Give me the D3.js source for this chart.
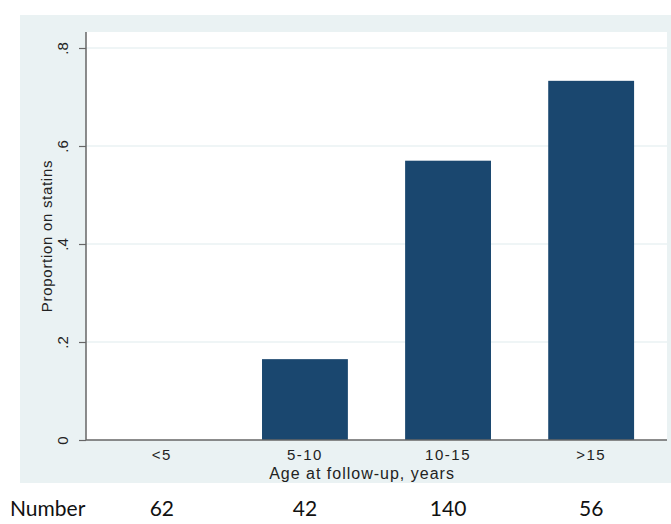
<!DOCTYPE html>
<html>
<head>
<meta charset="utf-8">
<script src="https://cdn.jsdelivr.net/npm/d3@7"></script>
<style>
  body { margin: 0; background: #fff; }
  text { font-family: "Liberation Sans", Arial, sans-serif; }
</style>
</head>
<body>
<div id="chart"></div>
<script>
// Data
var ageGroups = ["<5", "5-10", "10-15", ">15"];
var proportions = [0, 0.165, 0.570, 0.733];
var numbers = [62, 42, 140, 56];
var yTicks = [0, 0.2, 0.4, 0.6, 0.8];

var svgWidth = 671;
var svgHeight = 524;

var svg = d3.select("#chart")
  .append("svg")
  .attr("width", svgWidth)
  .attr("height", svgHeight);

// outer graph region (Stata-ish light blue)
svg.append("rect")
  .attr("x", 20).attr("y", 15)
  .attr("width", 651).attr("height", 468)
  .attr("fill", "#eaf2f3");

var plot = { left: 86, right: 667, top: 32, bottom: 440 };

svg.append("rect")
  .attr("x", plot.left).attr("y", plot.top)
  .attr("width", plot.right - plot.left).attr("height", plot.bottom - plot.top)
  .attr("fill", "#fff");

var xScale = d3.scaleBand()
  .domain(ageGroups)
  .range([plot.left, plot.right])
  .paddingInner(0.4)
  .paddingOuter(0.23);

var yScale = d3.scaleLinear()
  .domain([0, 0.8])
  .range([plot.bottom, 48]);

// gridlines
svg.append("g")
  .selectAll("line")
  .data(yTicks.filter(d => d > 0))
  .enter()
  .append("line")
  .attr("x1", plot.left).attr("x2", plot.right)
  .attr("y1", d => yScale(d)).attr("y2", d => yScale(d))
  .attr("stroke", "#eaf2f3")
  .attr("stroke-width", 1.5);

// bars
svg.append("g")
  .selectAll("rect")
  .data(ageGroups)
  .enter()
  .append("rect")
  .attr("x", d => xScale(d))
  .attr("y", (d, i) => yScale(proportions[i]))
  .attr("width", xScale.bandwidth())
  .attr("height", (d, i) => yScale(0) - yScale(proportions[i]))
  .attr("fill", "#1a476f");

// y axis
var leftAxis = d3.axisLeft(yScale)
  .tickValues(yTicks)
  .tickSize(7)
  .tickFormat(d => d === 0 ? "0" : d3.format(".1f")(d).replace(/^0/, ""));

var yAxis = svg.append("g")
  .attr("transform", `translate(${plot.left}, 0)`)
  .call(leftAxis);
yAxis.select(".domain").attr("stroke", "#666").attr("stroke-width", 1.5)
  .attr("d", `M0,${plot.top}V${plot.bottom}`);
yAxis.selectAll(".tick line").attr("stroke", "#666").attr("stroke-width", 1.2);
yAxis.selectAll(".tick text")
  .attr("font-size", 15)
  .attr("fill", "#222")
  .attr("x", 0).attr("dy", 0)
  .attr("text-anchor", "middle")
  .attr("transform", "translate(-18,0) rotate(-90)");

// x axis
var bottomAxis = d3.axisBottom(xScale).tickSize(0).tickPadding(9);
var xAxis = svg.append("g")
  .attr("transform", `translate(0, ${plot.bottom})`)
  .call(bottomAxis);
xAxis.select(".domain").attr("stroke", "#666").attr("stroke-width", 1.5)
  .attr("d", `M${plot.left},0H${plot.right}`);
xAxis.selectAll(".tick text")
  .attr("font-size", 15)
  .attr("letter-spacing", 1.5)
  .attr("fill", "#222");

// axis titles
svg.append("text")
  .attr("transform", `translate(52, ${(plot.top + plot.bottom) / 2}) rotate(-90)`)
  .attr("text-anchor", "middle")
  .attr("font-size", 15)
  .attr("letter-spacing", 0.7)
  .attr("fill", "#222")
  .text("Proportion on statins");

svg.append("text")
  .attr("x", 362).attr("y", 479)
  .attr("text-anchor", "middle")
  .attr("font-size", 16)
  .attr("letter-spacing", 1)
  .attr("fill", "#222")
  .text("Age at follow-up, years");

// Number row below the graph
svg.append("text")
  .attr("x", 10).attr("y", 516)
  .attr("font-size", 21)
  .attr("fill", "#111")
  .style("font-family", "Lato, sans-serif")
  .text("Number");

svg.append("g")
  .selectAll("text")
  .data(ageGroups)
  .enter()
  .append("text")
  .attr("x", d => xScale(d) + xScale.bandwidth() / 2)
  .attr("y", 516)
  .attr("text-anchor", "middle")
  .attr("font-size", 21)
  .attr("fill", "#111")
  .style("font-family", "Lato, sans-serif")
  .text((d, i) => numbers[i]);
</script>
</body>
</html>
